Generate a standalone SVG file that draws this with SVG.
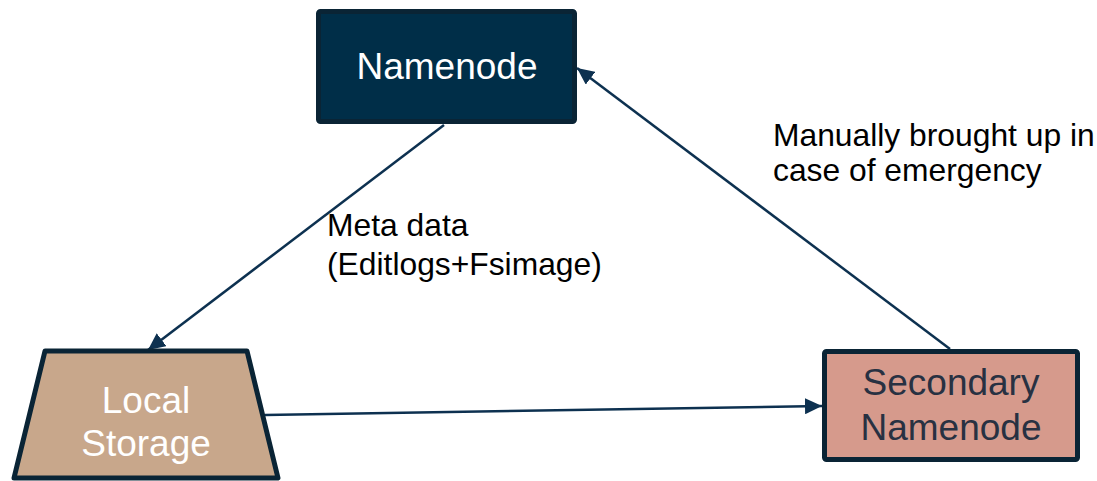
<svg xmlns="http://www.w3.org/2000/svg" width="1097" height="481" viewBox="0 0 1097 481">
  <style>
    .node-text { font-family: "Liberation Sans", Arial, sans-serif; font-size: 37px; text-anchor: middle; }
    .label { font-family: "Liberation Sans", Arial, sans-serif; font-size: 31.8px; fill: #000000; }
    .conn { stroke: #0d3150; stroke-width: 2.5; fill: none; marker-end: url(#arrow); }
    .border { stroke: #0a2435; stroke-width: 5; stroke-linejoin: round; }
  </style>
  <defs>
    <marker id="arrow" markerUnits="userSpaceOnUse" markerWidth="18" markerHeight="16" refX="17" refY="8" orient="auto">
      <path d="M0,0 L17,8 L0,16 Z" fill="#0d3150"/>
    </marker>
  </defs>
  <rect width="1097" height="481" fill="#ffffff"/>
  <g id="connectors">
    <line class="conn" x1="444" y1="125" x2="148" y2="350"/>
    <line class="conn" x1="950" y1="349" x2="577" y2="68"/>
    <line class="conn" x1="265" y1="415" x2="822" y2="406"/>
  </g>
  <g id="namenode">
    <rect class="border" x="318.5" y="11.5" width="256" height="110" rx="2" fill="#002e48"/>
    <text class="node-text" x="447" y="79" fill="#ffffff">Namenode</text>
  </g>
  <g id="local-storage">
    <polygon class="border" points="45,351 247,351 278,478 14,478" fill="#c8a78b"/>
    <text class="node-text" x="146" y="413" fill="#ffffff">Local</text>
    <text class="node-text" x="146" y="456" fill="#ffffff">Storage</text>
  </g>
  <g id="secondary-namenode">
    <rect class="border" x="824.5" y="351.5" width="253" height="108" rx="2" fill="#d69a8c"/>
    <text class="node-text" x="951" y="395" fill="#283142">Secondary</text>
    <text class="node-text" x="951" y="440" fill="#283142">Namenode</text>
  </g>
  <g id="labels">
    <text class="label" x="327" y="236">Meta data</text>
    <text class="label" x="327" y="275">(Editlogs+Fsimage)</text>
    <text class="label" x="773" y="146">Manually brought up in</text>
    <text class="label" x="773" y="181">case of emergency</text>
  </g>
</svg>
